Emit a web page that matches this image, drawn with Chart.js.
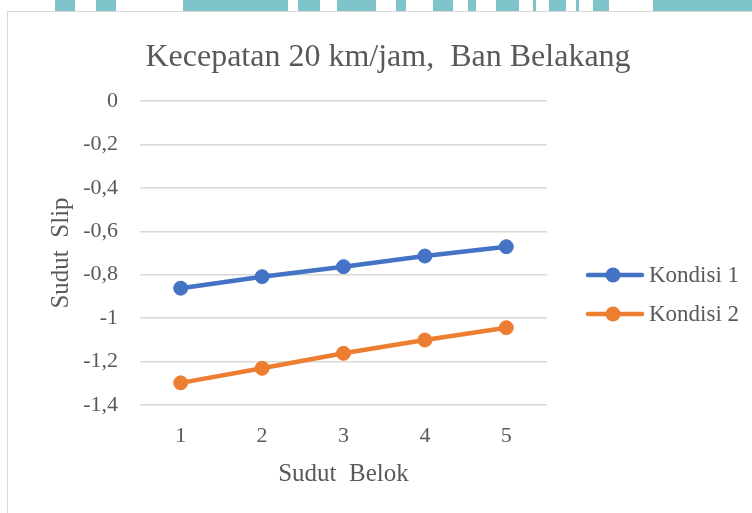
<!DOCTYPE html>
<html>
<head>
<meta charset="utf-8">
<script src="https://cdn.jsdelivr.net/npm/chart.js@4/dist/chart.umd.min.js"></script>
<style>
  html, body { margin: 0; padding: 0; background: #fff; overflow: hidden; width: 752px; height: 513px; }
  #wm { position: absolute; left: 0; top: 0; width: 752px; height: 11px; overflow: hidden; }
  #wm div { position: absolute; top: 0; height: 11px; }
  #frame { position: absolute; left: 7px; top: 11px; width: 800px; height: 520px;
           border-left: 1px solid #d9d9d9; border-top: 1px solid #d9d9d9; }
  #chart { position: absolute; left: 0; top: 0; }
</style>
</head>
<body>
<div id="wm"></div>
<div id="frame"><canvas id="chart" width="760" height="501"></canvas></div>
<script>
// values
var categories = ['1', '2', '3', '4', '5'];
var kondisi1 = [-0.862, -0.809, -0.763, -0.714, -0.671];
var kondisi2 = [-1.298, -1.231, -1.162, -1.101, -1.044];
var seriesNames = ['Kondisi 1', 'Kondisi 2'];
var seriesColors = ['#4472C4', '#ED7D31'];
var yMin = -1.4, yMax = 0, yStep = 0.2;

var textColor = '#595959';
var fontFamily = "'Liberation Serif', 'Times New Roman', serif";

// scanned page watermark strip along the top edge (decoration only)
var wmTeal = [[55, 20], [96, 20], [183, 569]];
var wmWhite = [[288, 10], [320, 17], [376, 20], [406, 27], [453, 15], [476, 20], [519, 14], [536, 13], [566, 10], [579, 14], [609, 44]];
var wm = document.getElementById('wm');
wmTeal.forEach(function (b) {
    var d = document.createElement('div');
    d.style.left = b[0] + 'px'; d.style.width = b[1] + 'px'; d.style.background = '#7fc3cb';
    wm.appendChild(d);
});
wmWhite.forEach(function (b) {
    var d = document.createElement('div');
    d.style.left = b[0] + 'px'; d.style.width = b[1] + 'px'; d.style.background = '#fff';
    wm.appendChild(d);
});

// legend drawn to the right of the plot, Excel style (line with a marker)
var sideLegend = {
    id: 'sideLegend',
    afterDraw: function (chart) {
        var ctx = chart.ctx;
        var x0 = 580, x1 = 634, cx = 605;
        var rows = [263, 302];
        ctx.save();
        chart.data.datasets.forEach(function (ds, i) {
            var y = rows[i];
            ctx.strokeStyle = ds.borderColor;
            ctx.lineWidth = 4.5;
            ctx.lineCap = 'round';
            ctx.beginPath();
            ctx.moveTo(x0, y);
            ctx.lineTo(x1, y);
            ctx.stroke();
            ctx.fillStyle = ds.borderColor;
            ctx.beginPath();
            ctx.arc(cx, y, 7.5, 0, Math.PI * 2);
            ctx.fill();
            ctx.fillStyle = textColor;
            ctx.font = '23px ' + fontFamily;
            ctx.textBaseline = 'middle';
            ctx.fillText(ds.label, 641, y + 1);
        });
        ctx.restore();
    }
};

var ctx = document.getElementById('chart').getContext('2d');
var myChart = new Chart(ctx, {
    type: 'line',
    data: {
        labels: categories,
        datasets: [kondisi1, kondisi2].map(function (vals, i) {
            return {
                label: seriesNames[i],
                data: vals,
                borderColor: seriesColors[i],
                backgroundColor: seriesColors[i],
                borderWidth: 4.5,
                pointRadius: 7,
                pointBorderWidth: 1,
                pointBackgroundColor: seriesColors[i],
                tension: 0
            };
        })
    },
    options: {
        responsive: false,
        devicePixelRatio: 1,
        animation: false,
        plugins: {
            legend: { display: false },
            tooltip: { enabled: false },
            title: {
                display: true,
                text: 'Kecepatan 20 km/jam,  Ban Belakang',
                color: textColor,
                font: { family: fontFamily, size: 32, weight: 'normal' },
                padding: { top: 26, bottom: 24.6 }
            }
        },
        scales: {
            x: {
                offset: true,
                grid: { display: false },
                border: { display: false },
                afterFit: function (s) { s.height = 108; },
                ticks: { color: textColor, font: { family: fontFamily, size: 22 }, padding: 10 },
                title: {
                    display: true,
                    text: 'Sudut  Belok',
                    color: textColor,
                    font: { family: fontFamily, size: 25 },
                    padding: { top: 4, bottom: 24 }
                }
            },
            y: {
                min: yMin,
                max: yMax,
                afterFit: function (s) { s.width = 132; },
                grid: { color: '#d9d9d9', lineWidth: 1.5, drawTicks: false },
                border: { display: false },
                ticks: {
                    stepSize: yStep,
                    color: textColor,
                    font: { family: fontFamily, size: 22 },
                    padding: 22,
                    callback: function (v) {
                        return String(Number(v.toFixed(1))).replace('.', ',');
                    }
                },
                title: {
                    display: true,
                    text: 'Sudut  Slip',
                    color: textColor,
                    font: { family: fontFamily, size: 25 },
                    padding: { top: 38, bottom: 0 }
                }
            },
            // empty right-hand axis that keeps room for the legend
            spacer: {
                type: 'linear',
                position: 'right',
                afterFit: function (s) { s.width = 221; },
                grid: { display: false },
                border: { display: false },
                ticks: { display: false }
            }
        }
    },
    plugins: [sideLegend]
});
</script>
</body>
</html>
